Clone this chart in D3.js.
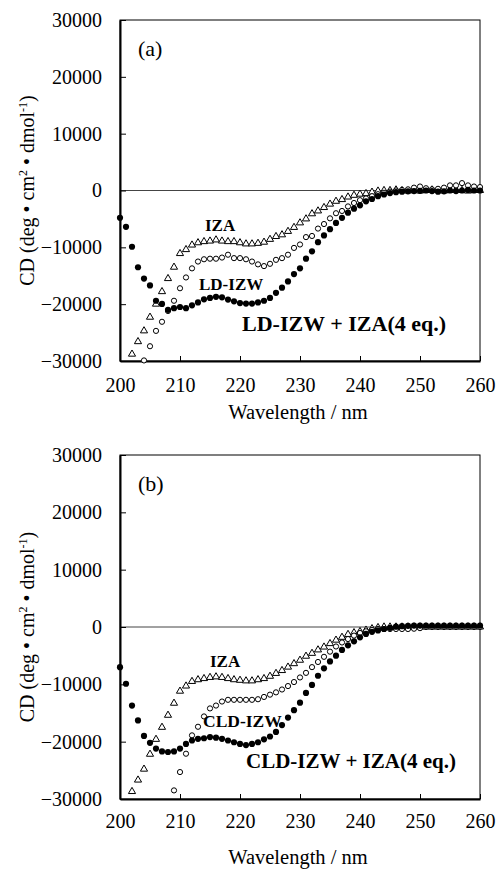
<!DOCTYPE html>
<html><head><meta charset="utf-8">
<script src="https://cdn.jsdelivr.net/npm/d3@7"></script>
<style>
body{margin:0;background:#fff;}
svg{display:block;}
text{font-family:"Liberation Serif","Times New Roman",serif;fill:#000;}
</style></head>
<body>
<script>
// ---------- data ----------
const xTicks = [200, 210, 220, 230, 240, 250, 260];
const yTicks = [-30000, -20000, -10000, 0, 10000, 20000, 30000];

// panel (a)
const aIZA_start = 202;
const aIZA = [-28700,-26500,-24600,-22200,-19900,-17700,-15400,-13400,-11000,-10300,-9500,-9100,-8900,-8800,-8600,-8800,-8900,-8900,-9100,-9300,-9300,-9200,-9000,-8500,-8000,-7700,-7100,-6400,-5600,-4900,-4000,-3500,-2900,-2300,-1800,-1500,-1050,-750,-550,-450,-200,0,100,100,200,100,0,100,0,100,200,100,0,100,200,100,0,100,100];
const aLD_start = 204;
const aLD = [-29900,-27400,-24700,-23100,-21200,-19400,-17200,-15300,-13700,-12500,-12100,-12000,-12000,-11800,-11300,-11900,-11900,-12100,-12500,-13000,-13300,-12900,-12200,-11900,-11300,-10100,-9500,-8200,-8000,-6700,-5900,-4900,-4000,-3600,-2800,-2200,-1700,-1400,-1000,-650,-400,-200,0,100,200,500,700,400,200,300,500,900,900,1300,900,700,600];
const aMix_start = 200;
const aMix = [-4800,-6400,-9900,-13500,-15500,-16700,-19400,-19950,-21000,-20700,-20500,-20700,-20200,-19700,-19150,-18900,-18700,-18800,-19200,-19500,-19800,-19900,-19900,-19700,-19400,-18900,-18000,-17100,-16000,-14700,-13700,-12000,-10700,-9100,-7900,-6800,-5700,-4800,-3900,-3200,-2600,-1900,-1500,-1000,-700,-450,-300,-200,-150,-100,-50,0,-100,-200,-150,0,-100,0,100,0,0];

// panel (b)
const bIZA_start = 202;
const bIZA = [-28600,-26600,-24700,-22100,-19500,-17400,-15300,-13200,-11100,-10200,-9400,-9100,-8900,-8700,-8600,-8700,-8900,-9100,-9200,-9300,-9300,-9100,-8900,-8500,-8000,-7500,-6900,-6300,-5700,-5000,-4500,-3900,-3400,-2800,-2200,-1700,-1200,-900,-700,-450,-200,0,100,100,100,100,100,100,100,100,100,100,100,100,100,100,100,100,100];
const bCLD_start = 209;
const bCLD = [-28500,-25300,-22100,-18900,-17400,-15600,-14200,-13700,-13000,-12700,-12700,-12700,-12700,-12700,-12600,-12200,-11800,-11400,-10900,-10300,-9600,-8800,-8000,-7000,-6100,-5200,-4300,-3400,-2700,-2100,-1500,-1050,-750,-500,-350,-350,-350,-350,-350,-350,-300,-200,0,0,0,0,0,0,0,0,0,0];
const bMix_start = 200;
const bMix = [-7000,-9900,-13700,-16300,-19000,-20200,-21200,-21700,-21800,-21700,-21200,-20400,-19800,-19500,-19400,-19200,-19300,-19500,-19800,-20100,-20400,-20600,-20400,-20100,-19600,-19100,-18300,-17100,-15800,-14500,-13200,-11500,-10100,-8500,-7200,-6000,-5000,-4000,-3200,-2500,-1800,-1200,-850,-600,-350,-150,50,150,200,250,250,250,250,250,250,250,250,250,250,250,250];

const panels = [
  {tag:"(a)", top:20, bottom:361, iza:[aIZA_start,aIZA], ld:[aLD_start,aLD], mix:[aMix_start,aMix],
   labels:[{t:"IZA",x:205,y:231,s:17},{t:"LD-IZW",x:199,y:290,s:17},{t:"LD-IZW + IZA(4 eq.)",x:242,y:331,s:22}],
   tickY:385, titleY:419},
  {tag:"(b)", top:455, bottom:799, iza:[bIZA_start,bIZA], ld:[bCLD_start,bCLD], mix:[bMix_start,bMix],
   labels:[{t:"IZA",x:210,y:667,s:17},{t:"CLD-IZW",x:203,y:727,s:17.5},{t:"CLD-IZW + IZA(4 eq.)",x:246,y:768,s:21}],
   tickY:821, titleY:864}
];

const W = 499, H = 877;
const svg = d3.select("body").append("svg").attr("width", W).attr("height", H);
const x = d3.scaleLinear().domain([200, 260]).range([120, 480]);

function toPts(start, arr){ return arr.map((v,i)=>({w:start+i, v:v})); }

panels.forEach(p => {
  const y = d3.scaleLinear().domain([-30000, 30000]).range([p.bottom, p.top]);
  const g = svg.append("g");

  // frame
  g.append("rect").attr("x", x(200)).attr("y", y(30000))
    .attr("width", x(260)-x(200)).attr("height", y(-30000)-y(30000))
    .attr("fill","none").attr("stroke","#000").attr("stroke-width",1);
  // zero line
  g.append("line").attr("x1", x(200)).attr("x2", x(260)).attr("y1", y(0)).attr("y2", y(0))
    .attr("stroke","#444").attr("stroke-width",1);

  // axes
  const ya = g.append("g").attr("transform",`translate(${x(200)},0)`)
    .call(d3.axisLeft(y).tickValues(yTicks).tickSizeInner(-6).tickSizeOuter(0).tickPadding(18).tickFormat(d3.format("d")));
  ya.attr("font-family",null);
  ya.select(".domain").attr("stroke-width",2);
  ya.selectAll("text").attr("font-size",20);
  ya.selectAll(".tick line").attr("stroke-width",1);

  const xa = g.append("g").attr("transform",`translate(0,${p.bottom})`)
    .call(d3.axisBottom(x).tickValues(xTicks).tickSizeInner(-5).tickSizeOuter(0).tickPadding(0).tickFormat(d3.format("d")));
  xa.attr("font-family",null);
  xa.select(".domain").attr("stroke-width",2);
  xa.selectAll("text").attr("font-size",20)
    .attr("y", p.tickY - p.bottom).attr("dy", "0.35em");

  // titles
  g.append("text").attr("x", 298).attr("y", p.titleY).attr("text-anchor","middle")
    .attr("font-size",20.5).text("Wavelength / nm");
  const cy = (p.top + p.bottom)/2;
  const yl = g.append("text").attr("transform",`translate(34,${cy}) rotate(-90)`)
    .attr("text-anchor","middle").attr("font-size",20);
  yl.append("tspan").text("CD (deg • cm");
  yl.append("tspan").attr("font-size",12).attr("dy",-7).text("2");
  yl.append("tspan").attr("dy",7).text(" • dmol");
  yl.append("tspan").attr("font-size",12).attr("dy",-7).text("-1");
  yl.append("tspan").attr("dy",7).text(")");

  g.append("text").attr("x",138).attr("y",p.top+36).attr("font-size",22).text(p.tag);

  // data marks
  const triPath = d3.symbol().type(d3.symbolTriangle).size(22);
  g.append("g").selectAll("path").data(toPts(p.iza[0], p.iza[1])).join("path")
    .attr("d", triPath).attr("transform", d=>`translate(${x(d.w)},${y(d.v)+0.5})`)
    .attr("fill","#fff").attr("stroke","#000").attr("stroke-width",1);
  g.append("g").selectAll("circle").data(toPts(p.ld[0], p.ld[1])).join("circle")
    .attr("cx", d=>x(d.w)).attr("cy", d=>y(d.v)).attr("r",2.6)
    .attr("fill","#fff").attr("stroke","#000").attr("stroke-width",1);
  g.append("g").selectAll("circle").data(toPts(p.mix[0], p.mix[1])).join("circle")
    .attr("cx", d=>x(d.w)).attr("cy", d=>y(d.v)).attr("r",3.1)
    .attr("fill","#000");

  // series labels
  p.labels.forEach(l => {
    g.append("text").attr("x", l.x).attr("y", l.y).attr("font-size", l.s)
      .attr("font-weight","bold").text(l.t);
  });
});
</script>
</body></html>
